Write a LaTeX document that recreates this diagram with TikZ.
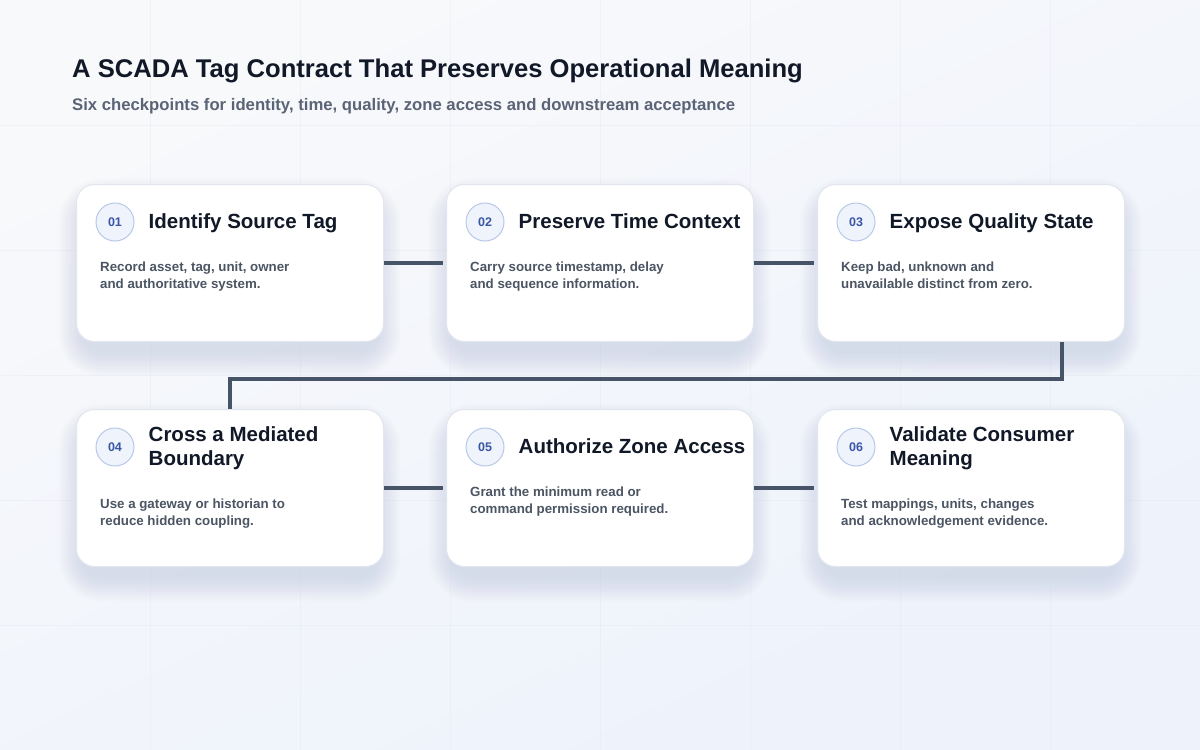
\documentclass[tikz,border=0pt]{standalone}
\usepackage{fontspec}
\setmainfont{Liberation Sans}
\usetikzlibrary{calc}
\definecolor{bgA}{HTML}{F8F9FB}
\definecolor{bgB}{HTML}{EDF2FB}
\definecolor{gridc}{HTML}{E3E8F0}
\definecolor{titlec}{HTML}{111827}
\definecolor{subc}{HTML}{5A6476}
\definecolor{bodyc}{HTML}{4B5563}
\definecolor{numc}{HTML}{3A56A5}
\definecolor{badgefill}{HTML}{EEF3FC}
\definecolor{badgeline}{HTML}{B9C8E8}
\definecolor{cardline}{HTML}{E2E6EE}
\definecolor{linkc}{HTML}{475467}
\definecolor{shadowc}{HTML}{5A6478}
\tikzset{
  cardbox/.style={draw=cardline, line width=1pt, fill=white, rounded corners=18pt,
    minimum width=307pt, minimum height=157pt, inner sep=0pt, anchor=north west},
  badge/.style={circle, draw=badgeline, line width=1pt, fill=badgefill, minimum size=38pt,
    inner sep=0pt, text=numc, font=\fontsize{12.5}{14}\selectfont\bfseries},
  ctitle/.style={anchor=west, align=left, inner sep=0pt, text=titlec, text depth=4.4pt,
    font=\fontsize{20.5}{24}\selectfont\bfseries},
  cbody/.style={anchor=north west, align=left, inner sep=0pt, text=bodyc,
    font=\fontsize{13.3}{17}\selectfont\bfseries},
  link/.style={draw=linkc, line width=4pt},
  gridline/.style={draw=gridc, line width=0.8pt, opacity=0.4},
}
\newcommand\cardshadow[2]{%
  \foreach \i in {1,...,16}{%
    \pgfmathsetmacro\rr{18+1.6*\i}%
    \pgfmathsetmacro\dd{1.6*\i}%
    \fill[shadowc, opacity=0.0065, rounded corners=\rr pt]
      (#1+8-\dd, #2+20-\dd) rectangle (#1+299+\dd, #2+167+\dd);
  }%
}
% name, left, top, number, title, body, body offset
\newcommand\stepcard[7]{%
  \cardshadow{#2}{#3}
  \node[cardbox] (#1) at (#2,#3) {};
  \node[badge] (#1n) at ($(#1.north west)+(39,38)$) {#4};
  \node[ctitle] (#1t) at ($(#1.north west)+(72.5,39.5)$) {#5};
  \node[cbody] (#1b) at ($(#1.north west)+(24,#7)$) {#6};
}
\begin{document}
\begin{tikzpicture}[x=1pt,y=-1pt]
\useasboundingbox (0,0) rectangle (1200,750);
\shade[top color=bgA, bottom color=bgB, shading angle=25] (0,0) rectangle (1200,750);
\foreach \gx in {150,300,...,1050} \draw[gridline] (\gx,0) -- (\gx,750);
\foreach \gy in {125,250,...,625} \draw[gridline] (0,\gy) -- (1200,\gy);

\node[anchor=base west, inner sep=0pt, text=titlec, font=\fontsize{25.6}{30}\selectfont\bfseries]
  (title) at (72,77) {A SCADA Tag Contract That Preserves Operational Meaning};
\node[anchor=base west, inner sep=0pt, text=subc, font=\fontsize{16.7}{20}\selectfont\bfseries]
  (subtitle) at (72,110) {Six checkpoints for identity, time, quality, zone access and downstream acceptance};

\stepcard{c1}{76}{184}{01}{Identify Source Tag}{Record asset, tag, unit, owner\\and authoritative system.}{78}
\stepcard{c2}{446}{184}{02}{Preserve Time Context}{Carry source timestamp, delay\\and sequence information.}{78}
\stepcard{c3}{817}{184}{03}{Expose Quality State}{Keep bad, unknown and\\unavailable distinct from zero.}{78}
\stepcard{c4}{76}{409}{04}{Cross a Mediated\\Boundary}{Use a gateway or historian to\\reduce hidden coupling.}{90}
\stepcard{c5}{446}{409}{05}{Authorize Zone Access}{Grant the minimum read or\\command permission required.}{78}
\stepcard{c6}{817}{409}{06}{Validate Consumer\\Meaning}{Test mappings, units, changes\\and acknowledgement evidence.}{90}

\draw[link, shorten >=3pt] (c1.east) -- (c2.west);
\draw[link, shorten >=3pt] (c2.east) -- (c3.west);
\draw[link, shorten >=3pt] (c4.east) -- (c5.west);
\draw[link, shorten >=3pt] (c5.east) -- (c6.west);
\coordinate (turn) at (1062,379);
\draw[link] (c3.south -| turn) -- (turn) -| (c4.north);
\end{tikzpicture}
\end{document}
